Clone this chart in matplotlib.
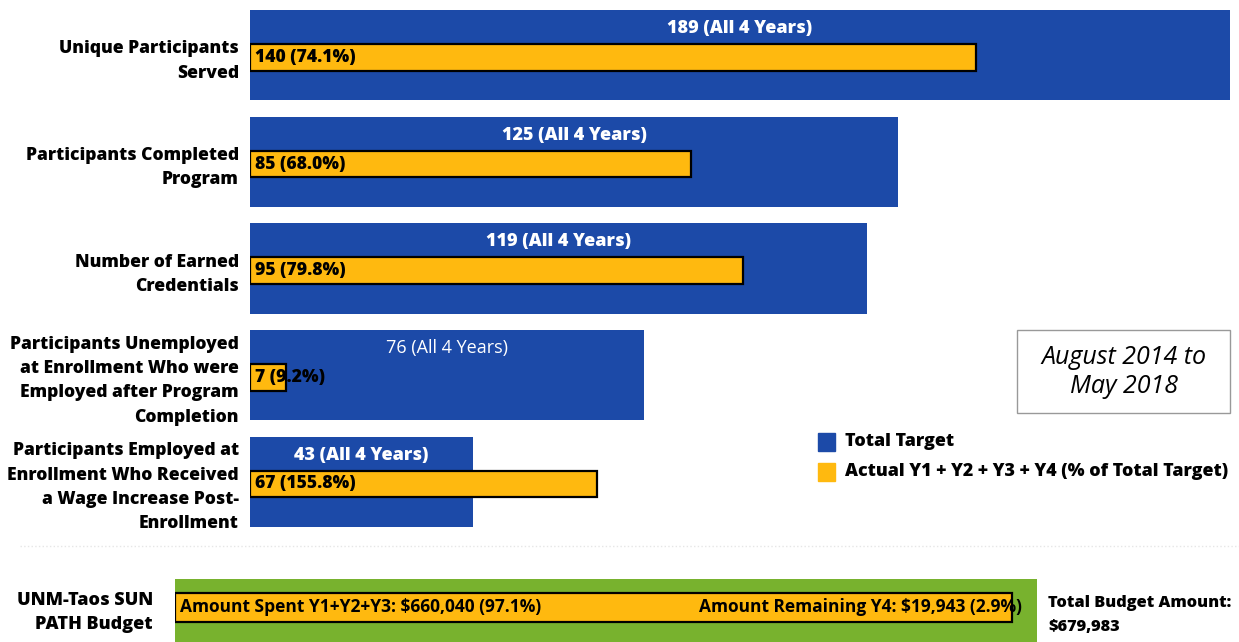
import matplotlib.pyplot as plt
from matplotlib.patches import Rectangle

plt.rcParams['font.family'] = ['Open Sans', 'DejaVu Sans']

categories = ['Unique Participants\nServed',
              'Participants Completed\nProgram',
              'Number of Earned\nCredentials',
              'Participants Unemployed\nat Enrollment Who were\nEmployed after Program\nCompletion',
              'Participants Employed at\nEnrollment Who Received\na Wage Increase Post-\nEnrollment']
targets = [189, 125, 119, 76, 43]
actuals = [140, 85, 95, 7, 67]

budget_label = 'UNM-Taos SUN\nPATH Budget'
budget_total = 679983
budget_spent = 660040
budget_remaining = 19943

blue = '#1c4aa8'
yellow = '#ffb90f'
green = '#78b22e'
heavy = 800

W, H = 1239, 642
fig = plt.figure(figsize=(W / 100, H / 100), dpi=100)

# main bars
ax = fig.add_axes([250 / W, 1 - 535 / H, 980 / W, 533 / H])
y = list(range(len(categories)))
ax.barh(y, targets, height=0.845, color=blue)
ax.barh([v + 0.02 for v in y], actuals, height=0.25, color=yellow,
        edgecolor='black', linewidth=1.6)
for i, (t, a) in enumerate(zip(targets, actuals)):
    ax.text(t / 2, i - 0.25, f'{t} (All 4 Years)', color='white',
            fontsize=13, fontweight='normal' if i == 3 else heavy,
            ha='center', va='center')
    ax.text(1.0, i + 0.02, f'{a} ({a / t * 100:.1f}%)', color='black',
            fontsize=12.6, fontweight=heavy, ha='left', va='center')
ax.set_xlim(0, max(targets))
ax.set_ylim(-0.5, len(categories) - 0.5)
ax.invert_yaxis()
ax.set_yticks(y)
ax.set_yticklabels(categories, fontsize=12.6, fontweight=heavy, linespacing=1.56)
ax.tick_params(axis='y', length=0, pad=8)
ax.set_xticks([])
for s in ax.spines.values():
    s.set_visible(False)

# legend
fig.patches.append(Rectangle((818 / W, 1 - 451 / H), 17 / W, 18 / H,
                             transform=fig.transFigure, color=blue))
fig.patches.append(Rectangle((818 / W, 1 - 481 / H), 17 / W, 18 / H,
                             transform=fig.transFigure, color=yellow))
fig.text(845 / W, 1 - 442 / H, 'Total Target', fontsize=12.9,
         fontweight=heavy, va='center')
fig.text(845 / W, 1 - 472 / H, 'Actual Y1 + Y2 + Y3 + Y4 (% of Total Target)',
         fontsize=12.9, fontweight=heavy, va='center')

# date box
fig.patches.append(Rectangle((1017 / W, 1 - 413 / H), 213 / W, 83 / H,
                             transform=fig.transFigure, facecolor='white',
                             edgecolor='#999999', linewidth=1))
fig.text(1124 / W, 1 - 372 / H, 'August 2014 to\nMay 2018', fontsize=18,
         style='italic', ha='center', va='center', linespacing=1.25)

# separator
fig.add_artist(plt.Line2D([20 / W, 1], [1 - 546 / H] * 2, color='#e6e6e6',
                          linewidth=1, linestyle=':'))

# budget bar
bx = fig.add_axes([175 / W, 0, 862 / W, 63 / H])
bx.barh(0, budget_total, height=2, color=green)
bx.barh(0, budget_spent, height=0.47, color=yellow, edgecolor='black',
        linewidth=1.6)
bx.set_xlim(0, budget_total)
bx.set_ylim(-0.45, 0.55)
bx.invert_yaxis()
bx.set_yticks([0])
bx.set_yticklabels([budget_label], fontsize=13, fontweight=heavy,
                   linespacing=1.5)
bx.tick_params(axis='y', length=0, pad=16)
bx.set_xticks([])
for s in bx.spines.values():
    s.set_visible(False)
bx.text(budget_total * 0.006, 0, 'Amount Spent Y1+Y2+Y3: '
        f'${budget_spent:,} ({budget_spent / budget_total * 100:.1f}%)',
        fontsize=12.5, fontweight='bold', ha='left', va='center')
bx.text(budget_total * 0.983, 0, 'Amount Remaining Y4: '
        f'${budget_remaining:,} ({budget_remaining / budget_total * 100:.1f}%)',
        fontsize=12.5, fontweight='bold', ha='right', va='center')
fig.text(1048 / W, 1 - 615 / H, f'Total Budget Amount:\n${budget_total:,}',
         fontsize=11.8, fontweight=heavy, ha='left', va='center', linespacing=1.65)

fig.savefig('out.png', dpi=100)
